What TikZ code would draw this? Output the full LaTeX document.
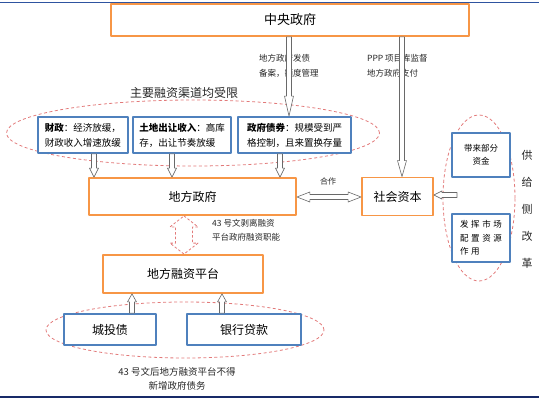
\documentclass[tikz,border=0pt]{standalone}
\usepackage{fontspec}
\setmainfont{Noto Sans CJK SC}
\newfontfamily\widecjk{Noto Sans CJK SC}[LetterSpace=30]
\usetikzlibrary{calc}
\definecolor{boxorange}{RGB}{247,150,70}
\definecolor{boxblue}{RGB}{79,129,189}
\definecolor{ringred}{RGB}{226,122,122}
\definecolor{arrowgray}{RGB}{105,105,105}
\definecolor{topblue}{RGB}{46,84,160}
\definecolor{rulenavy}{RGB}{24,42,104}
\tikzset{
  shaft half/.store in=\shafthalf, shaft half=2.5pt,
  head half/.store in=\headhalf, head half=4.5pt,
  head len/.store in=\headlen, head len=9pt,
  hollow/.style={draw=arrowgray, fill=white, line width=0.6pt,
    to path={($(\tikztostart)!\shafthalf!90:(\tikztotarget)$)
      -- ($(\tikztotarget)!\headlen!(\tikztostart)!\shafthalf!90:(\tikztotarget)$)
      -- ($(\tikztotarget)!\headlen!(\tikztostart)!\headhalf!90:(\tikztotarget)$)
      -- (\tikztotarget)
      -- ($(\tikztotarget)!\headlen!(\tikztostart)!\headhalf!-90:(\tikztotarget)$)
      -- ($(\tikztotarget)!\headlen!(\tikztostart)!\shafthalf!-90:(\tikztotarget)$)
      -- ($(\tikztostart)!\shafthalf!-90:(\tikztotarget)$) -- cycle}},
  twohollow/.style={draw=arrowgray, fill=white, line width=0.6pt,
    to path={(\tikztostart)
      -- ($(\tikztostart)!\headlen!(\tikztotarget)!\headhalf!90:(\tikztotarget)$)
      -- ($(\tikztostart)!\headlen!(\tikztotarget)!\shafthalf!90:(\tikztotarget)$)
      -- ($(\tikztotarget)!\headlen!(\tikztostart)!\shafthalf!90:(\tikztotarget)$)
      -- ($(\tikztotarget)!\headlen!(\tikztostart)!\headhalf!90:(\tikztotarget)$)
      -- (\tikztotarget)
      -- ($(\tikztotarget)!\headlen!(\tikztostart)!\headhalf!-90:(\tikztotarget)$)
      -- ($(\tikztotarget)!\headlen!(\tikztostart)!\shafthalf!-90:(\tikztotarget)$)
      -- ($(\tikztostart)!\headlen!(\tikztotarget)!\shafthalf!-90:(\tikztotarget)$)
      -- ($(\tikztostart)!\headlen!(\tikztotarget)!\headhalf!-90:(\tikztotarget)$)
      -- cycle}},
  orangebox/.style={draw=boxorange, line width=1.8pt, fill=white, inner sep=2pt,
    font=\fontsize{12}{14}\selectfont},
  bluebox/.style={draw=boxblue, line width=1.8pt, fill=white, inner sep=2pt,
    align=left, font=\fontsize{9.5}{15}\selectfont},
  dashring/.style={draw=ringred, line width=0.8pt, dash pattern=on 3pt off 2.5pt},
  note/.style={inner sep=0pt, text=black!85, font=\fontsize{8.5}{15}\selectfont},
}
\begin{document}
\begin{tikzpicture}[x=1pt, y=-1pt, line join=round]
  \useasboundingbox (0,0) rectangle (539,402);
  \draw[topblue, line width=1.5pt] (0,2.5) -- (539,2.5);
  \draw[rulenavy, line width=1.5pt] (0,397) -- (539,397);

  % dashed rings
  \draw[dashring] (193,133) ellipse [x radius=186.5pt, y radius=33pt];
  \draw[dashring] (479,198) ellipse [x radius=36pt, y radius=83pt];
  \draw[dashring] (185,330) ellipse [x radius=139pt, y radius=28pt];

  % labels
  \node[note, anchor=west, align=left] (quota) at (259,66) {地方政府发债\\备案，额度管理};
  \node[note, anchor=west, align=left] (ppp) at (367,66) {PPP 项目库监督\\地方政府支付};
  \node[note, font=\fontsize{12}{14}\selectfont] (limited) at (184,93) {主要融资渠道均受限};
  \node[note, font=\fontsize{8}{10}\selectfont] (coop) at (328,181) {合作};
  \node[note, anchor=west, align=left, font=\fontsize{8.5}{14}\selectfont] (strip) at (212,230) {43 号文剥离融资\\平台政府融资职能};
  \node[note, align=center, font=\fontsize{9.5}{14}\selectfont] (newdebt) at (177,379) {43 号文后地方融资平台不得\\新增政府债务};
  \node[note, align=center, font=\fontsize{11}{27}\selectfont] (reform) at (527,209) {供\\给\\侧\\改\\革};

  % boxes
  \node[orangebox, minimum width=358pt, minimum height=32pt, font=\fontsize{13}{15}\selectfont] (cgov) at (290,20) {中央政府};
  \node[bluebox, minimum width=90pt, minimum height=36pt] (fiscal) at (83,135) {\textbf{财政}：经济放缓，\\财政收入增速放缓};
  \node[bluebox, minimum width=98pt, minimum height=36pt] (land) at (182,135) {\textbf{土地出让收入}：高库\\存，出让节奏放缓};
  \node[bluebox, minimum width=113pt, minimum height=36pt] (bond) at (294.5,135) {\textbf{政府债券}：规模受到严\\格控制，且来置换存量};
  \node[orangebox, minimum width=207pt, minimum height=37pt] (lgov) at (192.5,196.5) {地方政府};
  \node[orangebox, minimum width=71pt, minimum height=38pt] (social) at (397.5,196.5) {社会资本};
  \node[bluebox, align=center, minimum width=58pt, minimum height=44pt, font=\fontsize{8.5}{13}\selectfont] (funds) at (481,155) {带来部分\\资金};
  \node[bluebox, minimum width=58pt, minimum height=48pt, font=\widecjk\fontsize{8.5}{13.5}\selectfont] (market) at (481,238) {发挥市场\\配置资源\\作用};
  \node[orangebox, minimum width=160pt, minimum height=38pt] (lgfv) at (183,274) {地方融资平台};
  \node[bluebox, minimum width=92pt, minimum height=31pt, font=\fontsize{12}{14}\selectfont] (ctb) at (110,329.5) {城投债};
  \node[bluebox, minimum width=114pt, minimum height=31pt, font=\fontsize{12}{14}\selectfont] (loan) at (244,329.5) {银行贷款};
  \coordinate (supply) at (457,195);

  % connectors
  \draw[hollow, head len=20pt] (cgov.south -| 289,0) to (bond.north -| 289,0);
  \draw[hollow, head len=16pt] (cgov.south -| 402,0) to (social.north -| 402,0);
  \draw[hollow] (fiscal.south -| 94,0) to (lgov.north -| 94,0);
  \draw[hollow] (land.south -| 172,0) to (lgov.north -| 172,0);
  \draw[hollow] (bond.south -| 280,0) to (lgov.north -| 280,0);
  \draw[twohollow, head len=13pt, head half=5pt] (lgov.east |- 0,197) to (social.west |- 0,197);
  \draw[hollow, head len=8pt, head half=4pt] (supply) to (social.east |- supply);
  \draw[twohollow, draw=ringred, dash pattern=on 2.5pt off 2pt, line width=0.8pt,
        head len=11pt, head half=14pt, shaft half=8.5pt] (lgov.south -| 184,0) to (lgfv.north -| 184,0);
  \draw[hollow, head len=8pt] (ctb.north -| 132,0) to (lgfv.south -| 132,0);
  \draw[hollow, head len=8pt] (loan.north -| 222,0) to (lgfv.south -| 222,0);
\end{tikzpicture}
\end{document}
